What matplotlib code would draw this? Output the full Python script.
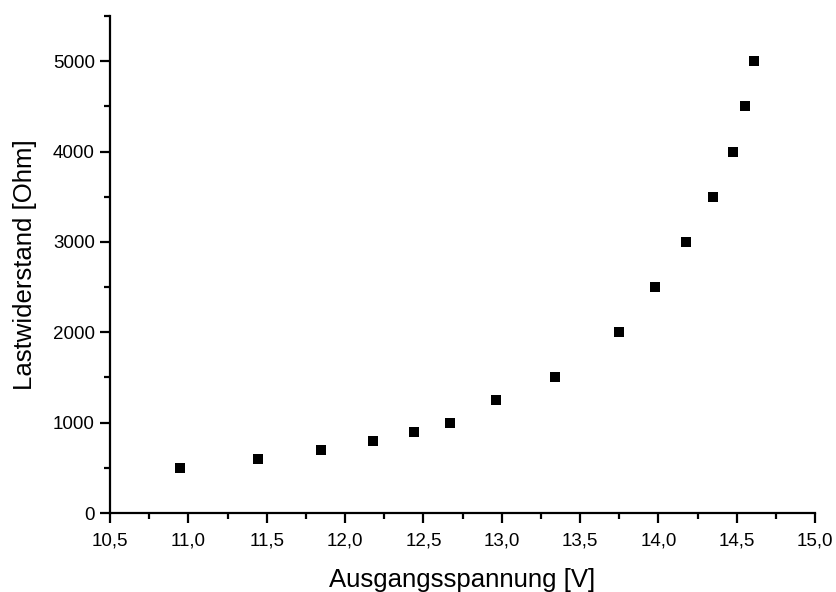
import matplotlib
matplotlib.use("Agg")
import matplotlib.pyplot as plt
from matplotlib.ticker import MultipleLocator, FuncFormatter

voltage = [10.947, 11.444, 11.847, 12.178, 12.44, 12.67, 12.963, 13.34,
           13.748, 13.978, 14.176, 14.348, 14.476, 14.552, 14.61]
resistance = [500, 600, 700, 800, 900, 1000, 1250, 1500,
              2000, 2500, 3000, 3500, 4000, 4500, 5000]

plt.rcParams['font.family'] = ['Liberation Sans', 'DejaVu Sans']

fig = plt.figure(figsize=(8.36, 5.92), dpi=100)
ax = fig.add_axes([0.1316, 0.1334, 0.975 - 0.1316, 0.973 - 0.1334])

ax.scatter(voltage, resistance, marker='s', s=55, color='black', linewidths=0, clip_on=False)

ax.set_xlim(10.5, 15.0)
ax.set_ylim(0, 5500)
ax.xaxis.set_major_locator(MultipleLocator(0.5))
ax.xaxis.set_minor_locator(MultipleLocator(0.25))
ax.yaxis.set_major_locator(MultipleLocator(1000))
ax.yaxis.set_minor_locator(MultipleLocator(500))
ax.xaxis.set_major_formatter(FuncFormatter(lambda v, p: f"{v:.1f}".replace('.', ',')))
ax.yaxis.set_major_formatter(FuncFormatter(lambda v, p: f"{int(v)}"))

for s in ['top', 'right']:
    ax.spines[s].set_visible(False)
for s in ['left', 'bottom']:
    ax.spines[s].set_linewidth(1.6)

ax.tick_params(which='major', direction='out', length=7, width=1.6, labelsize=13.5, pad=4)
ax.tick_params(axis='x', which='major', pad=7)
ax.tick_params(which='minor', direction='out', length=4, width=1.6)

ax.set_xlabel('Ausgangsspannung [V]', fontsize=18.5, labelpad=13)
ax.set_ylabel('Lastwiderstand [Ohm]', fontsize=18.5, labelpad=11)

fig.savefig('out.png', dpi=100)
